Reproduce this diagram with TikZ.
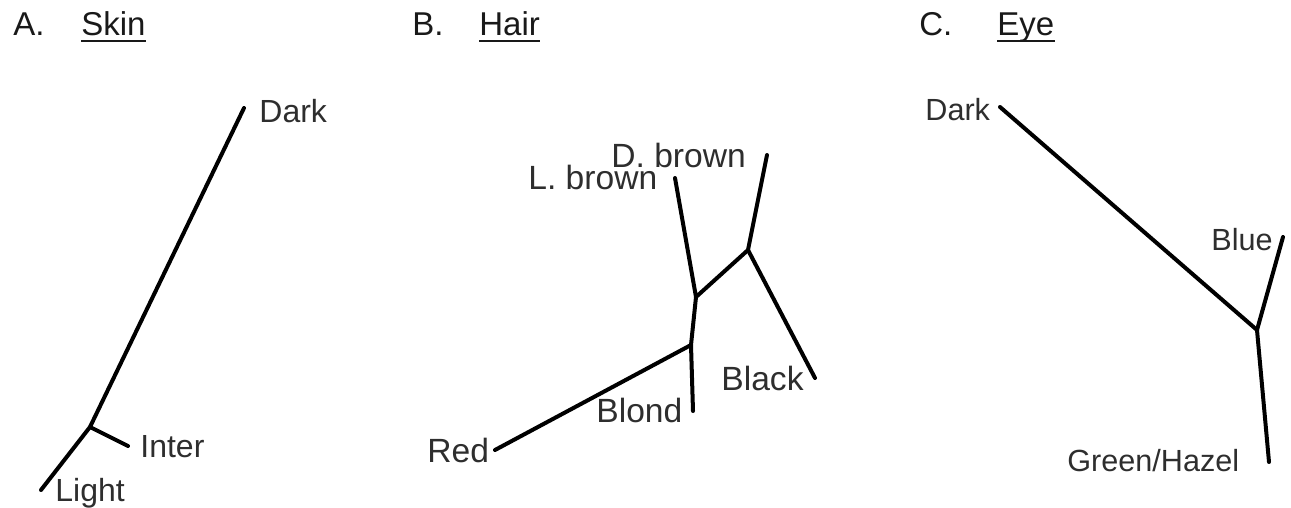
\documentclass[tikz,border=0pt]{standalone}
\usepackage{fontspec}
\setmainfont{Liberation Sans}
\begin{document}
\begin{tikzpicture}[x=0.5pt,y=-0.5pt,
  branch/.style={line width=2pt,line cap=round,black},
  lbl/.style={inner sep=0pt,anchor=base west,text=black!82,font=\fontsize{15.5pt}{18pt}\selectfont},
  lblA/.style={lbl,font=\fontsize{16pt}{19pt}\selectfont},
  lblB/.style={lbl,font=\fontsize{16.8pt}{20pt}\selectfont},
  lblC/.style={lbl,font=\fontsize{15.3pt}{18pt}\selectfont},
  ttl/.style={lbl,text=black!90,font=\fontsize{16.5pt}{19pt}\selectfont},
  uline/.style={line width=1.2pt,black!90}]
\useasboundingbox (0,0) rectangle (1291,508);
% ---------- A. Skin ----------
\node[ttl] (tA) at (13,36) {A.};
\node[ttl] (tSkin) at (81,36) {Skin};
\draw[uline] ([yshift=-2.6pt]tSkin.base west) -- ([yshift=-2.6pt]tSkin.base east);
\coordinate (aDark) at (244,108);
\coordinate (aJ) at (90,427);
\coordinate (aInter) at (128,446);
\coordinate (aLight) at (41,490);
\draw[branch] (aDark) -- (aJ) -- (aLight);
\draw[branch] (aJ) -- (aInter);
\node[lblA] (laDark) at (259,123) {Dark};
\node[lblA] (laInter) at (140,457) {Inter};
\node[lblA] (laLight) at (55,501) {Light};
% ---------- B. Hair ----------
\node[ttl] (tB) at (412,36) {B.};
\node[ttl] (tHair) at (479,36) {Hair};
\draw[uline] ([yshift=-2.6pt]tHair.base west) -- ([yshift=-2.6pt]tHair.base east);
\coordinate (bLB) at (675,178);
\coordinate (bJ1) at (696,297);
\coordinate (bJ2) at (748,250);
\coordinate (bDB) at (767,155);
\coordinate (bBlack) at (815,378);
\coordinate (bJ3) at (691,345);
\coordinate (bBlond) at (693,411);
\coordinate (bRed) at (495,450);
\draw[branch] (bLB) -- (bJ1) -- (bJ2) -- (bDB);
\draw[branch] (bJ2) -- (bBlack);
\draw[branch] (bJ1) -- (bJ3) -- (bBlond);
\draw[branch] (bJ3) -- (bRed);
\node[lblB] (lbDB) at (611,168) {D. brown};
\node[lblB] (lbLB) at (528,190) {L. brown};
\node[lblB] (lbBlack) at (721,390) {Black};
\node[lblB] (lbBlond) at (596,422) {Blond};
\node[lblB] (lbRed) at (427,462) {Red};
% ---------- C. Eye ----------
\node[ttl] (tC) at (919,36) {C.};
\node[ttl] (tEye) at (997,36) {Eye};
\draw[uline] ([yshift=-2.6pt]tEye.base west) -- ([yshift=-2.6pt]tEye.base east);
\coordinate (cDark) at (1000,107);
\coordinate (cJ) at (1257,330);
\coordinate (cBlue) at (1283,237);
\coordinate (cGH) at (1269,462);
\draw[branch] (cDark) -- (cJ) -- (cGH);
\draw[branch] (cJ) -- (cBlue);
\node[lblC] (lcDark) at (925,120) {Dark};
\node[lblC] (lcBlue) at (1211,250) {Blue};
\node[lblC] (lcGH) at (1067,471) {Green/Hazel};
\end{tikzpicture}
\end{document}
